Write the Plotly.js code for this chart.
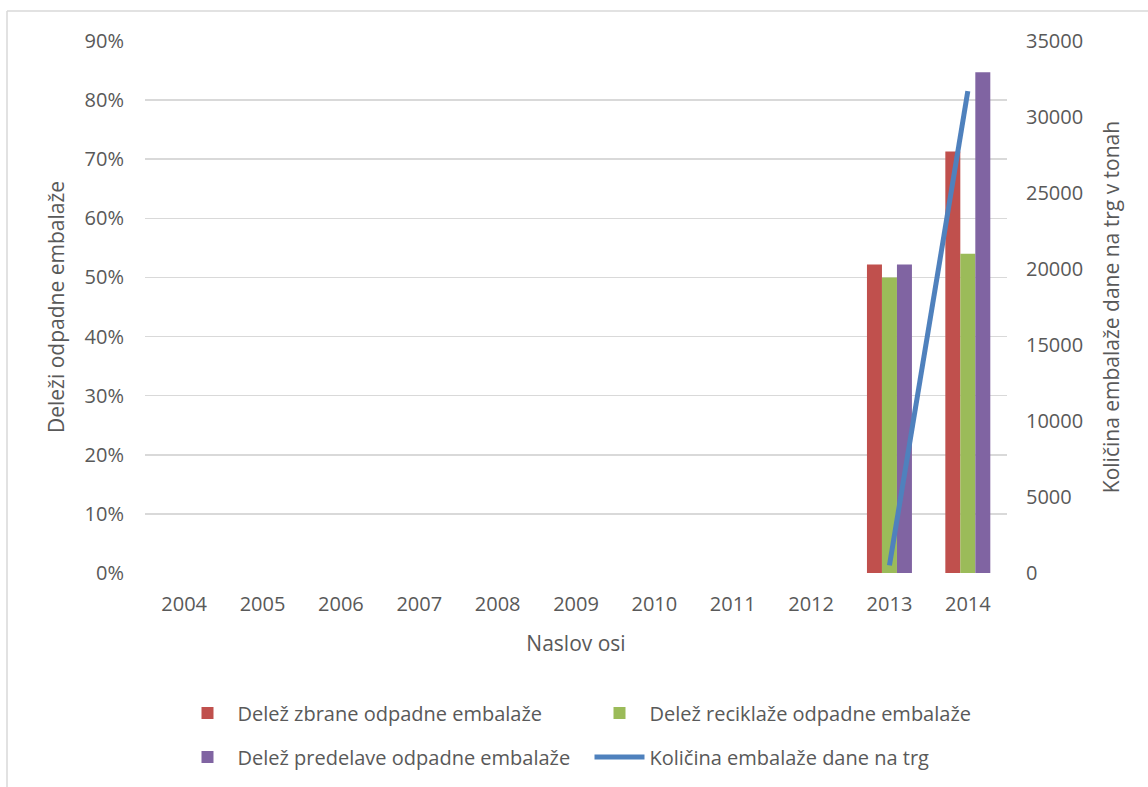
<!DOCTYPE html>
<html>
<head>
<meta charset="utf-8">
<script src="https://cdn.plot.ly/plotly-3.0.1.min.js"></script>
<style>
html,body{margin:0;padding:0;background:#fff;}
#chart{width:1148px;height:787px;}
</style>
</head>
<body>
<div id="chart"></div>
<script>
const years = ['2004','2005','2006','2007','2008','2009','2010','2011','2012','2013','2014'];
const zbrane = [null,null,null,null,null,null,null,null,null,0.522,0.713];
const reciklaze = [null,null,null,null,null,null,null,null,null,0.500,0.540];
const predelave = [null,null,null,null,null,null,null,null,null,0.522,0.847];
const kolicina = [null,null,null,null,null,null,null,null,null,500,31700];

const seriesNames = ['Delež zbrane odpadne embalaže','Delež reciklaže odpadne embalaže','Delež predelave odpadne embalaže','Količina embalaže dane na trg'];
const leftTicks = [0,0.1,0.2,0.3,0.4,0.5,0.6,0.7,0.8,0.9];
const rightTicks = [0,5000,10000,15000,20000,25000,30000,35000];

const FONT = 'Open Sans, Noto Sans, sans-serif';
const TXT = '#595959';
const FS = 20;

const traces = [
  {type:'bar', x:years, y:zbrane, name:seriesNames[0], marker:{color:'#C0504D'}, legend:'legend'},
  {type:'bar', x:years, y:reciklaze, name:seriesNames[1], marker:{color:'#9BBB59'}, legend:'legend'},
  {type:'bar', x:years, y:predelave, name:seriesNames[2], marker:{color:'#8064A2'}, legend:'legend2'},
  {type:'scatter', mode:'lines', x:years, y:kolicina, name:seriesNames[3], yaxis:'y2', legend:'legend2',
   line:{color:'#4F81BD', width:5}, connectgaps:false}
];

const legendBase = {orientation:'h', xanchor:'left', yanchor:'middle', yref:'container',
  entrywidth:347, entrywidthmode:'pixels', traceorder:'normal', itemwidth:50,
  font:{family:FONT, size:FS, color:TXT}, bgcolor:'rgba(0,0,0,0)'};

const layout = {
  width:1148, height:787,
  margin:{l:145, r:141, t:41, b:214, pad:0},
  paper_bgcolor:'#fff', plot_bgcolor:'#fff',
  font:{family:FONT, size:FS, color:TXT},
  barmode:'group', bargap:0.426, bargroupgap:0,
  showlegend:true,
  legend:Object.assign({}, legendBase, {x:0.0377, y:1-713/787}),
  legend2:Object.assign({}, legendBase, {x:0.0377, y:1-757/787}),
  xaxis:{type:'category', categoryorder:'array', categoryarray:years,
         showgrid:false, zeroline:false, showline:false, ticks:'',
         ticklabelstandoff:17, tickfont:{family:FONT, size:FS, color:TXT},
         title:{text:'Naslov osi', font:{family:FONT, size:21, color:TXT}, standoff:20},
         automargin:false, fixedrange:true},
  yaxis:{range:[0,0.9], tickmode:'array', tickvals:leftTicks, tickformat:'.0%',
         showgrid:true, gridcolor:'#D9D9D9', gridwidth:1.5, zeroline:false, showline:false, ticks:'',
         ticklabelstandoff:20, tickfont:{family:FONT, size:FS, color:TXT},
         title:{text:'Deleži odpadne embalaže', font:{family:FONT, size:21, color:TXT}, standoff:14},
         automargin:false, fixedrange:true},
  yaxis2:{range:[0,35000], overlaying:'y', side:'right', tickmode:'array', tickvals:rightTicks,
          tickformat:'d', showgrid:false, zeroline:false, showline:false, ticks:'',
          ticklabelstandoff:18, tickfont:{family:FONT, size:FS, color:TXT},
          title:{text:'Količina embalaže dane na trg v tonah', font:{family:FONT, size:21, color:TXT}, standoff:22},
          automargin:false, fixedrange:true},
  shapes:[
    {type:'line', xref:'paper', yref:'paper', x0:(7-145)/862, x1:(7-145)/862,
     y0:(573-800)/532, y1:(573-11)/532, line:{color:'#D9D9D9', width:1.5}, layer:'below'},
    {type:'line', xref:'paper', yref:'paper', x0:(7-145)/862, x1:(1160-145)/862,
     y0:(573-11)/532, y1:(573-11)/532, line:{color:'#D9D9D9', width:1.5}, layer:'below'}
  ]
};

Plotly.newPlot('chart', traces, layout, {displayModeBar:false, staticPlot:true});
</script>
</body>
</html>
